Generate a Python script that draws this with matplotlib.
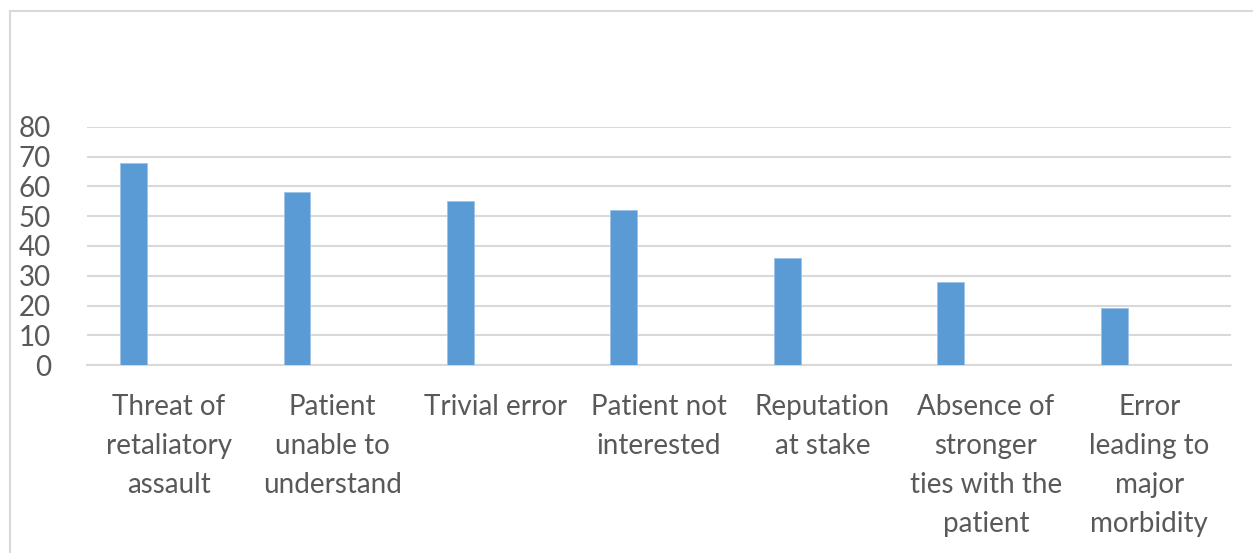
import matplotlib.pyplot as plt
from matplotlib.patches import Rectangle
import numpy as np

categories = ['Threat of\nretaliatory\nassault', 'Patient\nunable to\nunderstand', 'Trivial error',
              'Patient not\ninterested', 'Reputation\nat stake', 'Absence of\nstronger\nties with the\npatient',
              'Error\nleading to\nmajor\nmorbidity']
values = [68, 58, 55, 52, 36, 28, 19]
yticks = [0, 10, 20, 30, 40, 50, 60, 70, 80]

W, H = 1253, 553
fig = plt.figure(figsize=(W/100, H/100), dpi=100)
plt.rcParams['font.family'] = ['Lato', 'DejaVu Sans']

# chart border (right and bottom run off the picture)
fig.patches.append(Rectangle((10/W, -0.2), 1.2, 1.2 - 11/H, transform=fig.transFigure,
                             fill=False, edgecolor='#d9d9d9', linewidth=1.5))

ax = fig.add_axes([87/W, 1 - 365/H, (1231-87)/W, (365-127)/H])
x = np.arange(len(categories))
ax.bar(x - 0.215, values, width=0.165, color='#5b9bd5', edgecolor='#9dc3e6', linewidth=0.6, zorder=3)

ax.set_xlim(-0.5, len(categories) - 0.5)
ax.set_ylim(0, 80)
ax.set_yticks(yticks)
ax.set_xticks(x)
ax.set_xticklabels(categories, linespacing=1.61)
ax.yaxis.grid(True, color='#d9d9d9', linewidth=1.5, zorder=0)
for s in ['top', 'right', 'left']:
    ax.spines[s].set_visible(False)
ax.spines['bottom'].set_color('#d9d9d9')
ax.spines['bottom'].set_linewidth(1.5)
ax.tick_params(axis='both', length=0, labelsize=20, colors='#595959')
ax.tick_params(axis='x', pad=21)
ax.tick_params(axis='y', pad=26)

fig.savefig('out.png', dpi=100)
